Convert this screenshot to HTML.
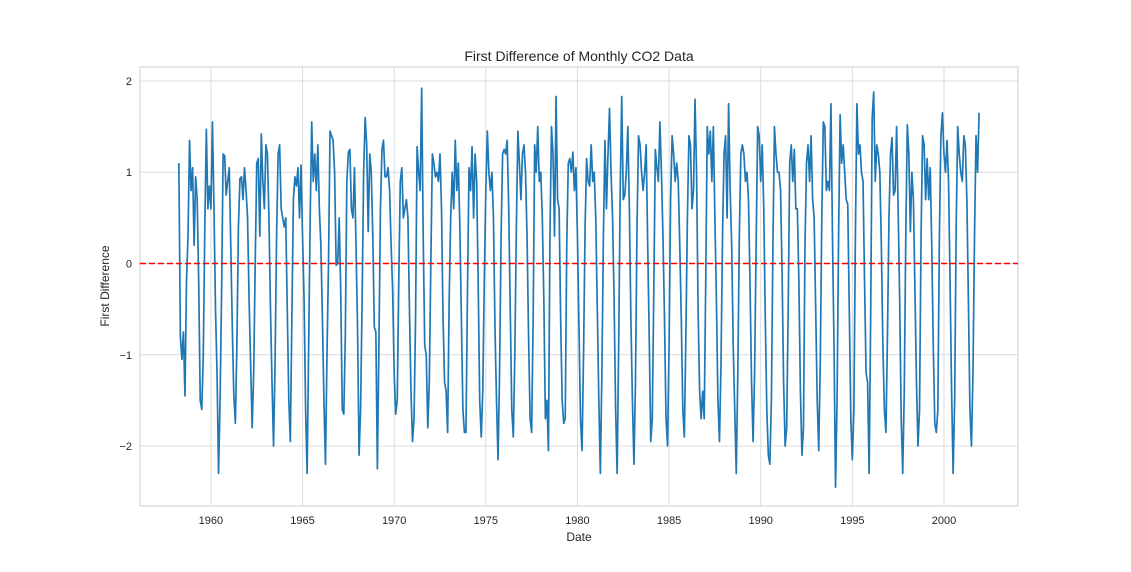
<!DOCTYPE html>
<html><head><meta charset="utf-8"><style>
body{margin:0;background:#fff;font-family:"Liberation Sans",sans-serif}
svg text{font-family:"Liberation Sans",sans-serif;fill:#262626}
</style></head><body>
<svg id="chart" width="1131" height="567" xmlns="http://www.w3.org/2000/svg">
<rect width="1131" height="567" fill="#fff"/>
<g id="grid"></g>
<g id="xticks"></g>
<g id="yticks"></g>
<rect x="140" y="67" width="878" height="439" fill="none" stroke="#cccccc" stroke-width="1"/>
<path id="series" fill="none" stroke="#1f77b4" stroke-width="1.7" stroke-linejoin="round"/>
<line id="zero" stroke="#ff0000" stroke-width="1.6" stroke-dasharray="6,3"/>
<text x="579" y="61" text-anchor="middle" font-size="14">First Difference of Monthly CO2 Data</text>
<text x="579" y="541" text-anchor="middle" font-size="12">Date</text>
<text transform="translate(109,286) rotate(-90)" text-anchor="middle" font-size="12">First Difference</text>
</svg>
<script>
const startYear = 1958.25;
const xTicks = [1960,1965,1970,1975,1980,1985,1990,1995,2000];
const yTicks = [2,1,0,-1,-2];
const yTickLabels = ["2","1","0","\u22121","\u22122"];
const values = [
1.1,-0.8,-1.05,-0.75,-1.45,-0.2,0.3,1.35,0.8,
1.05,0.2,0.95,0.7,-0.2,-1.5,-1.6,-1.0,0.4,1.47,0.6,0.85,
0.6,1.55,0.6,-0.5,-1.2,-2.3,-1.5,-0.3,1.2,1.18,0.75,0.9,
1.05,0.2,-0.7,-1.45,-1.75,-0.9,0.4,0.93,0.95,0.7,1.05,0.8,
0.5,-0.4,-1.1,-1.8,-1.2,0.0,1.1,1.15,0.3,1.42,0.9,0.6,
1.3,1.2,0.5,-0.5,-1.3,-2.0,-1.1,0.3,1.2,1.3,0.6,0.5,
0.4,0.5,-0.5,-1.5,-1.95,-0.6,0.7,0.95,0.85,1.05,0.5,1.08,
0.3,-0.4,-1.6,-2.3,-0.9,0.5,1.55,0.9,1.2,0.8,1.3,0.6,
0.2,-0.6,-1.5,-2.2,-1.0,0.0,1.45,1.4,1.35,1.0,-0.02,0.0,
0.5,-0.3,-1.6,-1.65,-0.8,0.9,1.22,1.25,0.6,0.5,1.05,0.2,
-0.7,-2.1,-1.6,-0.4,1.0,1.6,1.3,0.35,1.2,1.0,0.3,-0.7,
-0.75,-2.25,-0.9,0.6,1.25,1.35,0.95,0.95,1.05,0.8,0.2,-0.3,
-1.2,-1.65,-1.5,-0.2,0.9,1.05,0.5,0.6,0.7,0.5,-0.5,-1.4,
-1.95,-1.7,-0.6,1.28,1.0,0.8,1.92,0.3,-0.9,-1.0,-1.8,-1.3,
0.0,1.2,1.1,0.95,1.0,0.9,1.2,0.6,-0.6,-1.3,-1.4,-1.85,
-0.4,0.5,1.0,0.6,1.35,0.8,1.1,0.4,-0.6,-1.6,-1.85,-1.85,
-0.3,1.05,0.8,1.28,0.5,1.2,0.9,-0.2,-1.5,-1.9,-1.4,-0.2,
0.8,1.45,1.0,0.8,1.0,0.5,-0.7,-1.5,-2.15,-1.2,0.3,1.2,
1.25,1.2,1.35,0.6,-0.5,-1.6,-1.9,-1.0,0.4,1.45,1.1,0.7,
1.2,1.3,1.0,0.3,-0.8,-1.7,-1.85,-0.6,1.3,1.0,1.5,0.9,
1.0,0.5,-0.4,-1.7,-1.5,-2.05,0.3,1.5,1.2,0.3,1.83,0.7,
0.6,-0.6,-1.5,-1.75,-1.7,0.2,1.1,1.15,1.0,1.22,0.8,1.05,
0.3,-0.7,-1.7,-2.05,-1.0,0.4,1.15,0.9,0.85,1.3,0.9,1.0,
0.5,-0.5,-1.5,-2.3,-1.2,0.3,1.35,0.6,1.2,1.7,1.0,0.5,
-0.4,-1.6,-2.3,-0.9,0.8,1.83,0.7,0.75,1.0,1.5,0.6,-0.6,
-1.5,-2.2,-1.3,0.4,1.4,1.3,1.0,0.8,1.0,1.3,0.2,-0.8,
-1.95,-1.7,-0.3,1.25,1.05,0.9,1.55,1.0,0.3,-0.6,-1.7,-2.0,
-0.9,0.7,1.4,1.2,0.9,1.1,0.9,0.2,-0.6,-1.6,-1.9,-0.8,
0.5,1.4,1.3,0.6,0.8,1.8,1.0,-0.5,-1.4,-1.7,-1.4,-1.7,
-0.2,1.5,1.2,1.45,0.9,1.5,0.5,-0.4,-1.5,-1.95,-1.1,0.3,
1.2,1.4,0.5,1.75,0.8,0.2,-0.9,-1.6,-2.3,-1.2,0.3,1.2,
1.3,1.2,0.9,1.0,0.7,-0.2,-1.3,-1.95,-1.2,0.2,1.5,1.4,
0.9,1.3,0.6,-0.6,-1.6,-2.1,-2.2,-1.5,0.2,1.5,1.2,1.0,
1.0,0.8,-0.1,-1.3,-2.0,-1.8,-0.5,1.1,1.3,0.9,1.25,0.6,
0.6,-0.2,-1.4,-2.1,-1.8,0.2,1.1,1.3,0.9,1.4,0.7,0.5,
-0.5,-1.5,-2.05,-1.1,0.5,1.55,1.5,0.8,0.9,0.8,1.75,0.3,
-0.9,-2.45,-1.5,0.3,1.63,1.1,1.3,1.0,0.7,0.65,-0.5,-1.7,
-2.15,-1.6,0.3,1.75,1.2,1.3,1.0,0.9,-0.2,-1.2,-1.3,-2.3,
-0.6,1.6,1.88,0.9,1.3,1.2,1.0,0.2,-0.9,-1.6,-1.85,-0.8,
0.5,1.2,1.38,0.75,0.8,1.5,0.6,-0.4,-1.7,-2.3,-1.4,0.3,
1.52,1.2,0.35,1.0,0.7,-0.3,-1.3,-2.0,-1.6,0.3,1.4,1.3,
0.7,1.15,0.7,1.05,0.2,-0.9,-1.75,-1.85,-1.6,0.3,1.4,1.65,
1.2,1.0,1.35,0.9,-0.2,-1.4,-2.3,-1.5,0.4,1.5,1.2,1.0,
0.9,1.4,1.3,0.7,-0.4,-1.6,-2.0,-1.2,0.3,1.4,1.0,1.65
];
const X0=140,X1=1018,XMIN=1956.13,XMAX=2004.04;
const Y0=506,Y1=67,YMIN=-2.657,YMAX=2.153;
const xs=v=>X0+(v-XMIN)/(XMAX-XMIN)*(X1-X0);
const ys=v=>Y0-(v-YMIN)/(YMAX-YMIN)*(Y0-Y1);
const NS="http://www.w3.org/2000/svg";
const grid=document.getElementById('grid');
const gx=document.getElementById('xticks'), gy=document.getElementById('yticks');
function mk(t,a){const e=document.createElementNS(NS,t);for(const k in a)e.setAttribute(k,a[k]);return e;}
xTicks.forEach(t=>{
  const l=mk('line',{x1:xs(t),x2:xs(t),y1:Y1,y2:Y0,stroke:'#dcdcdc','stroke-width':1});
  
  
  grid.appendChild(l);
  const tx=mk('text',{x:xs(t),y:Y0+18,'text-anchor':'middle','font-size':11});
  
  
  tx.textContent=t;gx.appendChild(tx);
});
yTicks.forEach((t,i)=>{
  const l=mk('line',{x1:X0,x2:X1,y1:ys(t),y2:ys(t),stroke:'#dcdcdc','stroke-width':1});
  
  
  grid.appendChild(l);
  const tx=mk('text',{x:X0-8,y:ys(t)+4,'text-anchor':'end','font-size':11});
  
  
  tx.textContent=yTickLabels[i];gy.appendChild(tx);
});
const z=document.getElementById('zero');
z.setAttribute('x1',X0);z.setAttribute('x2',X1);z.setAttribute('y1',ys(0));z.setAttribute('y2',ys(0));
let d='';
values.forEach((v,i)=>{d+=(i?'L':'M')+xs(startYear+i/12).toFixed(2)+','+ys(v).toFixed(2);});
document.getElementById('series').setAttribute('d',d);
</script>
</body></html>
